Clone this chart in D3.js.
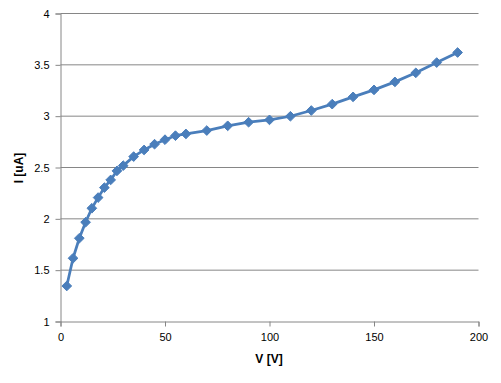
<!DOCTYPE html>
<html>
<head>
<meta charset="utf-8">
<title>I-V curve</title>
<script src="https://d3js.org/d3.v7.min.js"></script>
<style>
  body { margin: 0; background: #fff; }
  text { font-family: "Liberation Sans", Arial, sans-serif; font-size: 11px; fill: #000; }
  .title { font-weight: bold; font-size: 12px; }
</style>
</head>
<body>
<svg width="501" height="383"></svg>
<script>
// data
var voltage = [3, 6, 9, 12, 15, 18, 21, 24, 27, 30, 35, 40, 45, 50, 55, 60, 70, 80, 90, 100,
               110, 120, 130, 140, 150, 160, 170, 180, 190];
var current = [1.346, 1.616, 1.811, 1.967, 2.103, 2.207, 2.304, 2.379, 2.467, 2.518, 2.606, 2.671,
               2.727, 2.771, 2.81, 2.827, 2.86, 2.906, 2.941, 2.964, 2.999, 3.055, 3.117, 3.188,
               3.256, 3.334, 3.422, 3.522, 3.62];
var xTicks = [0, 50, 100, 150, 200];
var yTicks = [1, 1.5, 2, 2.5, 3, 3.5, 4];

var svg = d3.select("svg");
var plotLeft = 60.5, plotRight = 478.5, plotTop = 13.5, plotBottom = 321.5;

var x = d3.scaleLinear().domain([0, 200]).range([plotLeft, plotRight]);
var y = d3.scaleLinear().domain([1, 4]).range([plotBottom, plotTop]);

// gridlines
svg.append("g").selectAll("line")
  .data(yTicks.slice(1))
  .enter().append("line")
    .attr("x1", plotLeft).attr("x2", plotRight)
    .attr("y1", function(d) { return y(d); })
    .attr("y2", function(d) { return y(d); })
    .attr("stroke", "#868686").attr("stroke-width", 1);

// y axis
var yAxis = svg.append("g")
  .attr("transform", "translate(" + plotLeft + ",0)")
  .call(d3.axisLeft(y).tickValues(yTicks).tickSize(5).tickPadding(6)
    .tickFormat(function(d) { return d; }));
yAxis.select(".domain").attr("stroke", "#868686");
yAxis.selectAll(".tick line").attr("stroke", "#868686");
yAxis.selectAll("text").attr("font-family", null).attr("font-size", null).attr("fill", "#000");

// x axis
var xAxis = svg.append("g")
  .attr("transform", "translate(0," + plotBottom + ")")
  .call(d3.axisBottom(x).tickValues(xTicks).tickSize(5).tickPadding(7));
xAxis.select(".domain").attr("stroke", "#868686");
xAxis.selectAll(".tick line").attr("stroke", "#868686");
xAxis.selectAll("text").attr("font-family", null).attr("font-size", null).attr("fill", "#000");

// axis titles
svg.append("text").attr("class", "title")
  .attr("x", 269).attr("y", 363)
  .attr("text-anchor", "middle")
  .text("V [V]");
svg.append("text").attr("class", "title")
  .attr("transform", "translate(23,168) rotate(-90)")
  .attr("text-anchor", "middle")
  .text("I [uA]");

var pts = voltage.map(function(v, i) { return [v, current[i]]; });

var line = d3.line()
  .x(function(d) { return x(d[0]); })
  .y(function(d) { return y(d[1]); });

svg.append("path")
  .datum(pts)
  .attr("d", line)
  .attr("fill", "none")
  .attr("stroke", "#4a7ebb")
  .attr("stroke-width", 2.75)
  .attr("stroke-linejoin", "round");

var diamond = d3.symbol().type(d3.symbolDiamond2).size(60);
svg.append("g").selectAll("path")
  .data(pts)
  .enter().append("path")
    .attr("transform", function(d) { return "translate(" + x(d[0]) + "," + y(d[1]) + ")"; })
    .attr("d", diamond)
    .attr("fill", "#4a7ebb")
    .attr("stroke", "#4a7ebb")
    .attr("stroke-width", 1);
</script>
</body>
</html>
